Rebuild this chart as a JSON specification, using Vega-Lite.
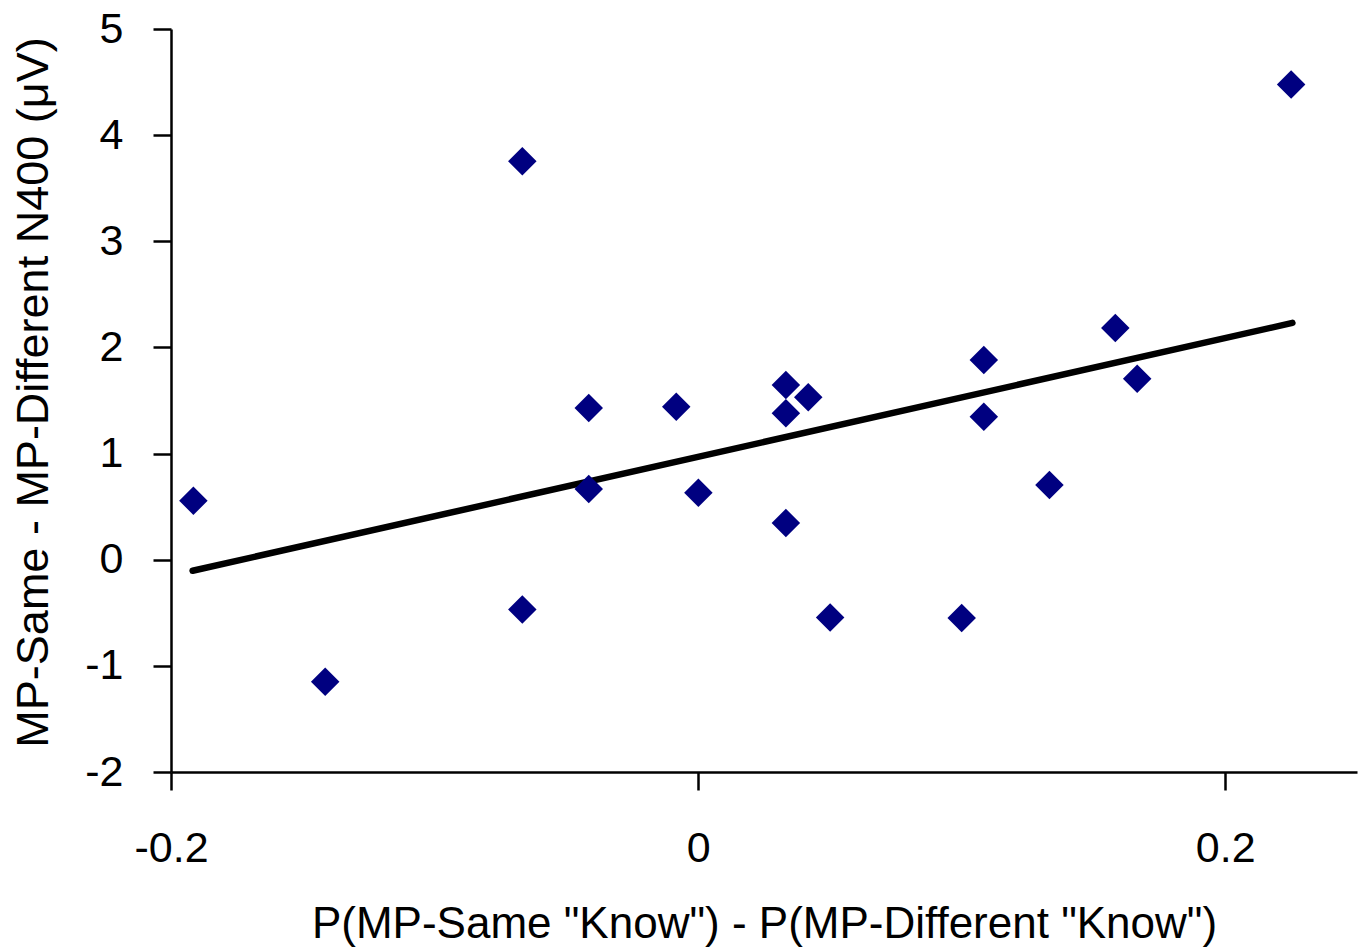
{
  "$schema": "https://vega.github.io/schema/vega-lite/v6.json",
  "autosize": "none",
  "width": 1186,
  "height": 743,
  "padding": {"left": 171, "top": 29, "right": 9, "bottom": 178},
  "background": "white",
  "config": {
    "view": {"stroke": null},
    "font": "Liberation Sans",
    "axis": {
      "grid": false,
      "domainColor": "black",
      "domainWidth": 2.5,
      "tickColor": "black",
      "tickWidth": 2.5,
      "tickSize": 18,
      "labelColor": "black",
      "titleColor": "black",
      "labelFont": "Liberation Sans",
      "titleFont": "Liberation Sans",
      "labelFontSize": 43,
      "titleFontSize": 44,
      "titleFontWeight": "normal",
      "labelFlush": false,
      "labelOverlap": false
    }
  },
  "datasets": {
    "points": [
      {"x": -0.1915, "y": 0.556},
      {"x": -0.1415, "y": -1.150},
      {"x": -0.0667, "y": 3.754},
      {"x": -0.0667, "y": -0.468},
      {"x": -0.0415, "y": 1.430},
      {"x": -0.0415, "y": 0.666},
      {"x": -0.0083, "y": 1.442},
      {"x": 0.0001, "y": 0.631},
      {"x": 0.0333, "y": 1.647},
      {"x": 0.0333, "y": 1.379},
      {"x": 0.0418, "y": 1.530},
      {"x": 0.0333, "y": 0.346},
      {"x": 0.0501, "y": -0.544},
      {"x": 0.1000, "y": -0.549},
      {"x": 0.1084, "y": 1.882},
      {"x": 0.1084, "y": 1.348},
      {"x": 0.1333, "y": 0.704},
      {"x": 0.1583, "y": 2.184},
      {"x": 0.1666, "y": 1.706},
      {"x": 0.2250, "y": 4.477}
    ],
    "trend": [
      {"x": -0.1918, "y": -0.104},
      {"x": 0.2255, "y": 2.231}
    ]
  },
  "layer": [
    {
      "data": {"name": "trend"},
      "mark": {"type": "line", "color": "black", "strokeWidth": 6.5, "strokeCap": "round", "clip": false},
      "encoding": {
        "x": {
          "field": "x", "type": "quantitative",
          "scale": {"domain": [-0.2, 0.25], "nice": false, "zero": false},
          "axis": {
            "values": [-0.2, 0, 0.2],
            "labelExpr": "'' + datum.value",
            "labelBaseline": "alphabetic",
            "labelPadding": 71,
            "title": "P(MP-Same \"Know\") - P(MP-Different \"Know\")",
            "titleBaseline": "alphabetic",
            "titleY": 165
          }
        },
        "y": {
          "field": "y", "type": "quantitative",
          "scale": {"domain": [-2, 5], "nice": false, "zero": false},
          "axis": {
            "values": [-2, -1, 0, 1, 2, 3, 4, 5],
            "labelExpr": "'' + datum.value",
            "labelPadding": 30,
            "title": "MP-Same - MP-Different N400 (μV)",
            "titleFontSize": 45,
            "titleBaseline": "alphabetic",
            "titleAngle": -90,
            "titleX": -124,
            "titleY": 363
          }
        }
      }
    },
    {
      "data": {"name": "points"},
      "mark": {"type": "point", "shape": "diamond", "filled": true, "size": 812, "color": "#000080", "opacity": 1, "strokeWidth": 0},
      "encoding": {
        "x": {"field": "x", "type": "quantitative"},
        "y": {"field": "y", "type": "quantitative"}
      }
    }
  ]
}
